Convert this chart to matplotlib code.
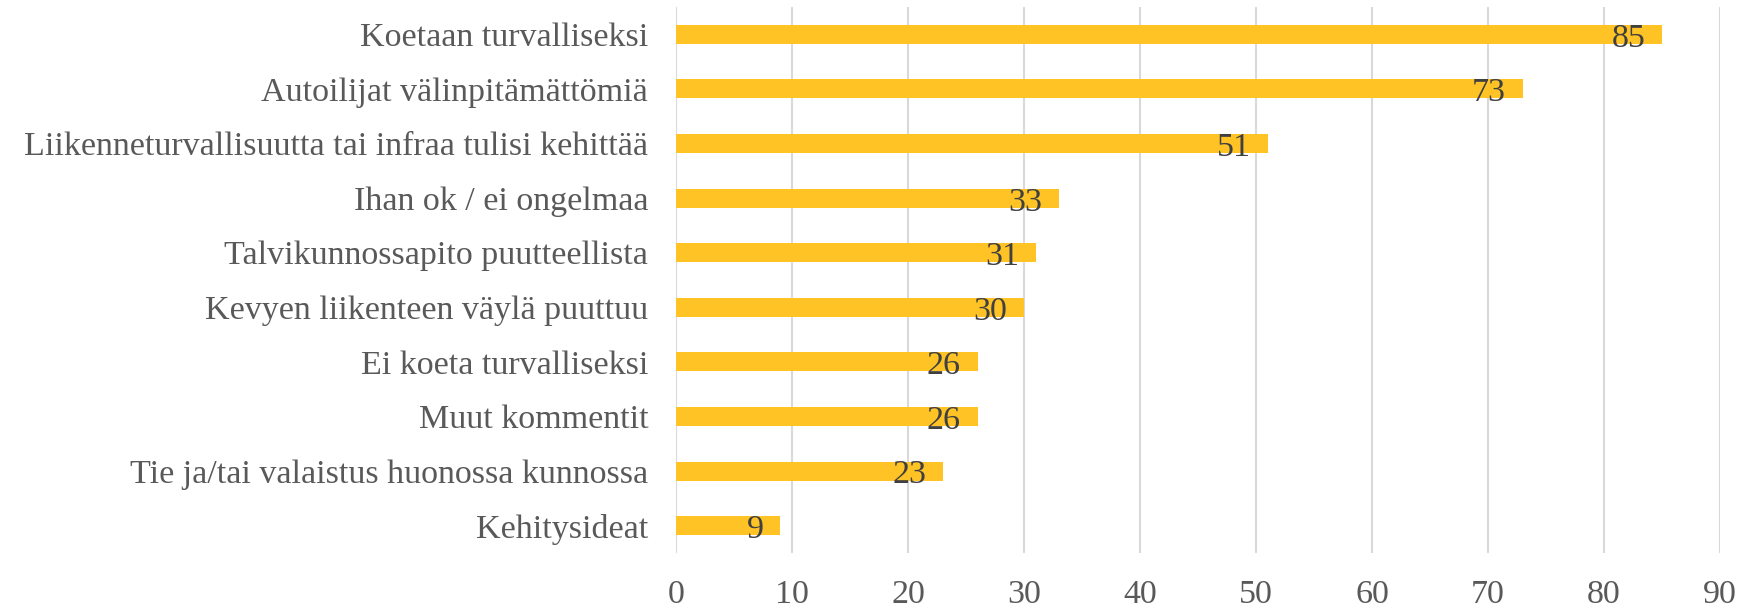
import matplotlib
matplotlib.use("Agg")
import matplotlib.pyplot as plt

# data, top to bottom as shown
categories = [
    "Koetaan turvalliseksi",
    "Autoilijat välinpitämättömiä",
    "Liikenneturvallisuutta tai infraa tulisi kehittää",
    "Ihan ok / ei ongelmaa",
    "Talvikunnossapito puutteellista",
    "Kevyen liikenteen väylä puuttuu",
    "Ei koeta turvalliseksi",
    "Muut kommentit",
    "Tie ja/tai valaistus huonossa kunnossa",
    "Kehitysideat",
]
values = [85, 73, 51, 33, 31, 30, 26, 26, 23, 9]
xticks = [0, 10, 20, 30, 40, 50, 60, 70, 80, 90]

plt.rcParams["font.family"] = ["Liberation Serif", "DejaVu Serif"]

fig = plt.figure(figsize=(17.63, 6.08), dpi=100)
ax = fig.add_axes([0.3834, 0.0905, 0.5922, 0.898])

ypos = list(range(len(categories)))
bars = ax.barh(ypos, values, height=0.35, color="#FFC325", zorder=2)
ax.set_ylim(len(categories) - 0.5, -0.5)
ax.set_xlim(0, 90)
ax.set_xticks(xticks)
ax.set_yticks(ypos)
ax.set_yticklabels(categories)

for b, v in zip(bars, values):
    ax.annotate(str(v), (b.get_width(), b.get_y() + b.get_height() / 2),
                xytext=(-12, -3), textcoords="offset points",
                ha="right", va="center", fontsize=24.5, color="#404040", zorder=3)

ax.grid(axis="x", color="#D9D9D9", linewidth=1.5, zorder=0)
for s in ax.spines.values():
    s.set_visible(False)
ax.tick_params(axis="both", length=0, colors="#595959", labelsize=24.5)
ax.tick_params(axis="x", pad=19)
ax.tick_params(axis="y", pad=20)

fig.savefig("out.png", dpi=100)
